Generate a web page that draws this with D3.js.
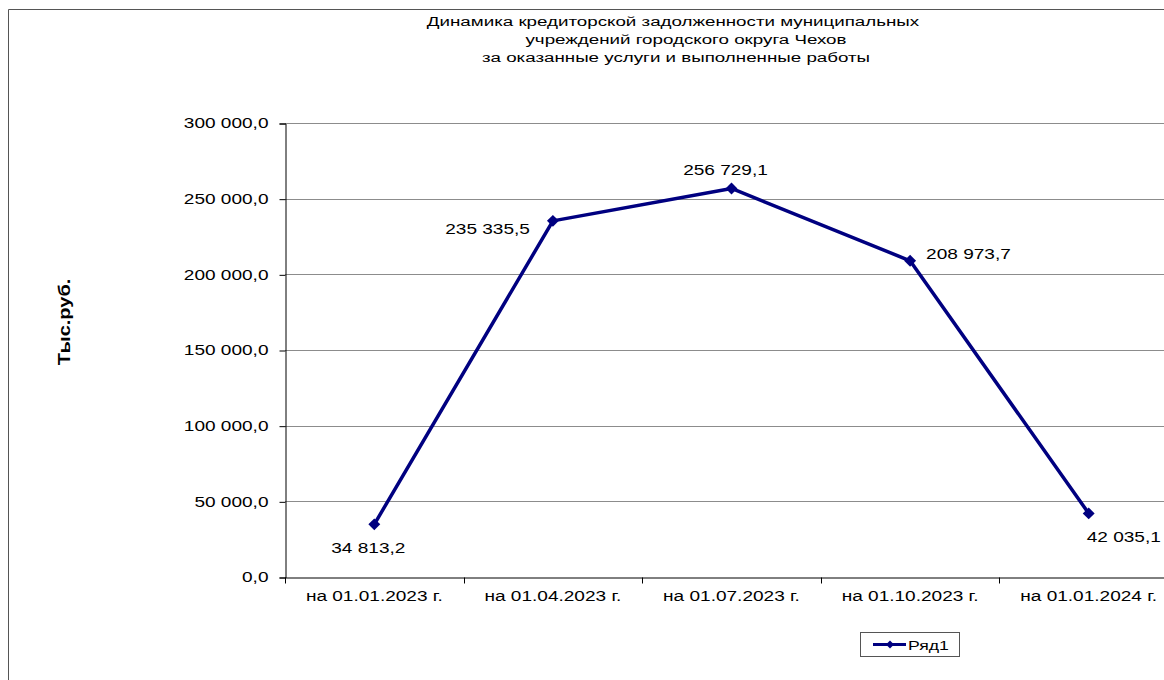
<!DOCTYPE html>
<html>
<head>
<meta charset="utf-8">
<script src="https://cdn.jsdelivr.net/npm/d3@7"></script>
<style>
  body { margin: 0; background: #fff; }
  svg text { font-family: "Liberation Sans", Arial, sans-serif; fill: #000; }
</style>
</head>
<body>
<svg id="chart" width="1164" height="680"></svg>
<script>
// chart data
const categories = ["на 01.01.2023 г.", "на 01.04.2023 г.", "на 01.07.2023 г.", "на 01.10.2023 г.", "на 01.01.2024 г."];
const values = [34813.2, 235335.5, 256729.1, 208973.7, 42035.1];
const yTicks = [0, 50000, 100000, 150000, 200000, 250000, 300000];
const labelPos = ["below", "left", "above", "right", "belowRight"];
const titleLines = [
  "Динамика кредиторской задолженности муниципальных",
  "учреждений городского округа Чехов",
  "за оказанные услуги и выполненные работы"
];
const seriesName = "Ряд1";

const svg = d3.select("#chart");
const lineColor = "#000080";
// the original picture is stretched sideways, so text is too
const SX = 1.36;

function stretch(sel, sx) {
  sx = sx || SX;
  sel.each(function() {
    const t = d3.select(this);
    const tx = +t.attr("x") || 0;
    const ty = +t.attr("y") || 0;
    t.attr("x", 0).attr("y", 0)
      .attr("transform", "translate(" + tx + "," + ty + ") scale(" + sx + ",1)");
  });
}

// outer frame (right and bottom edges are outside the picture)
svg.append("path")
  .attr("d", "M8.5,700 V9.5 H1180")
  .attr("fill", "none")
  .attr("stroke", "#555")
  .attr("stroke-width", 1);

// plot area
const plotLeft = 285, plotRight = 1178, plotTop = 123, plotBottom = 577;

const x = d3.scaleBand().domain(categories).range([plotLeft, plotRight]);
const y = d3.scaleLinear().domain([0, 300000]).range([plotBottom, plotTop]);

// format like 250 000,0
function fmt(v) {
  return d3.format(",.1f")(v).replace(/,/g, " ").replace(".", ",");
}

// gridlines
svg.append("g")
  .selectAll("line")
  .data(yTicks.slice(1))
  .enter()
  .append("line")
  .attr("x1", plotLeft)
  .attr("x2", 1164)
  .attr("y1", d => Math.round(y(d)) + 0.5)
  .attr("y2", d => Math.round(y(d)) + 0.5)
  .attr("stroke", "#8c8c8c")
  .attr("stroke-width", 1);

// y axis
const yAxis = svg.append("g")
  .attr("transform", "translate(" + (plotLeft + 0.5) + ",0.5)")
  .call(d3.axisLeft(y).tickValues(yTicks).tickFormat(fmt).tickSize(6).tickPadding(11));
yAxis.select(".domain").attr("stroke", "#000");
yAxis.selectAll(".tick line").attr("stroke", "#000");
yAxis.selectAll("text").attr("font-size", 14).style("font-family", "Liberation Sans, Arial, sans-serif").call(stretch);

// x axis
const xAxis = svg.append("g")
  .attr("transform", "translate(0," + (plotBottom + 0.5) + ")")
  .call(d3.axisBottom(x).tickSize(0).tickPadding(14));
xAxis.select(".domain").attr("stroke", "#000");
xAxis.selectAll("text").attr("font-size", 14).style("font-family", "Liberation Sans, Arial, sans-serif").call(stretch);
// category boundary ticks
xAxis.selectAll(".bound")
  .data(categories.concat([null]))
  .enter()
  .append("line")
  .attr("x1", (d, i) => Math.round(plotLeft + i * x.bandwidth()) + 0.5)
  .attr("x2", (d, i) => Math.round(plotLeft + i * x.bandwidth()) + 0.5)
  .attr("y1", 0)
  .attr("y2", 6)
  .attr("stroke", "#000");

// line
const cx = (d, i) => x(categories[i]) + x.bandwidth() / 2;
const line = d3.line()
  .x(cx)
  .y(d => y(d));

svg.append("path")
  .datum(values)
  .attr("d", line)
  .attr("fill", "none")
  .attr("stroke", lineColor)
  .attr("stroke-width", 3.5)
  .attr("stroke-linejoin", "round");

// diamond markers
const diamond = d3.symbol().type(d3.symbolDiamond2).size(90);
svg.append("g")
  .selectAll("path")
  .data(values)
  .enter()
  .append("path")
  .attr("d", diamond)
  .attr("transform", (d, i) => "translate(" + cx(d, i) + "," + y(d) + ")")
  .attr("fill", lineColor);

// data labels
svg.append("g")
  .selectAll("text")
  .data(values)
  .enter()
  .append("text")
  .attr("font-size", 14)
  .attr("x", (d, i) => {
    const p = labelPos[i];
    if (p == "left") return cx(d, i) - 23;
    if (p == "right") return cx(d, i) + 16;
    if (p == "belowRight") return cx(d, i) - 2;
    return cx(d, i) - 6;
  })
  .attr("y", (d, i) => {
    const p = labelPos[i];
    if (p == "below") return y(d) + 29;
    if (p == "belowRight") return y(d) + 29;
    if (p == "above") return y(d) - 13;
    if (p == "left") return y(d) + 13;
    return y(d) - 2;
  })
  .attr("text-anchor", (d, i) => {
    const p = labelPos[i];
    if (p == "left") return "end";
    if (p == "right" || p == "belowRight") return "start";
    return "middle";
  })
  .text(fmt)
  .call(stretch);

// title
const titleX = [673, 686, 676];
svg.append("g")
  .selectAll("text")
  .data(titleLines)
  .enter()
  .append("text")
  .attr("x", (d, i) => titleX[i])
  .attr("y", (d, i) => 26 + i * 18)
  .attr("text-anchor", "middle")
  .attr("font-size", 13.5)
  .text(d => d)
  .call(stretch, 1.39);

// y axis title
svg.append("text")
  .attr("transform", "translate(70,322) rotate(-90) scale(1.25,1)")
  .attr("text-anchor", "middle")
  .attr("font-size", 16)
  .attr("font-weight", "bold")
  .text("Тыс.руб.");

// legend
const lg = svg.append("g").attr("transform", "translate(860,632)");
lg.append("rect")
  .attr("x", 0.5).attr("y", 0.5)
  .attr("width", 99).attr("height", 24)
  .attr("fill", "#fff")
  .attr("stroke", "#555");
lg.append("line")
  .attr("x1", 13).attr("x2", 46)
  .attr("y1", 12.5).attr("y2", 12.5)
  .attr("stroke", lineColor)
  .attr("stroke-width", 3);
lg.append("path")
  .attr("d", d3.symbol().type(d3.symbolDiamond2).size(40))
  .attr("transform", "translate(30,12.5)")
  .attr("fill", lineColor);
lg.append("text")
  .attr("x", 48).attr("y", 17.5)
  .attr("font-size", 13)
  .text(seriesName)
  .call(stretch);
</script>
</body>
</html>
